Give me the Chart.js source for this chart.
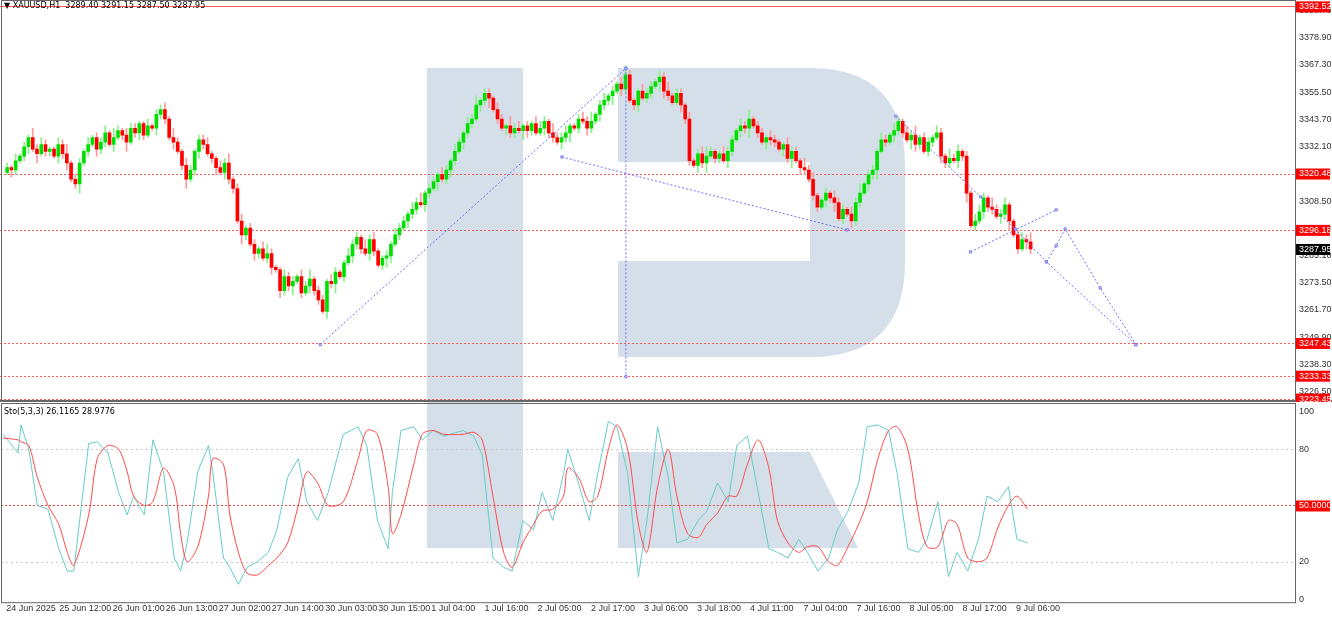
<!DOCTYPE html>
<html><head><meta charset="utf-8">
<script src="https://cdn.jsdelivr.net/npm/chart.js@4/dist/chart.umd.min.js"></script>
<style>
html,body{margin:0;padding:0;background:#fff;}
#wrap{position:relative;width:1332px;height:618px;overflow:hidden;}
#bg{position:absolute;left:0;top:0;}
</style></head><body>
<div id="wrap">
<canvas id="bg" width="1332" height="618"></canvas>
<div style="position:absolute;left:0;top:0;width:1332px;height:402px"><canvas id="c1"></canvas></div>
<div style="position:absolute;left:0;top:402px;width:1332px;height:216px"><canvas id="c2"></canvas></div>
</div>
<script>
// ---------- DATA ----------
const closes = [
3323,3322,3326,3328,3332,3336,3331,3329,3333,3330,
3331,3328,3333,3329,3325,3318,3316,3325,3330,3333,
3336,3331,3334,3338,3333,3336,3339,3337,3334,3340,
3338,3342,3337,3341,3340,3346,3348,3344,3336,3334,
3330,3324,3318,3322,3330,3335,3333,3329,3327,3323,
3321,3325,3318,3314,3300,3294,3297,3290,3286,3288,
3284,3286,3280,3279,3270,3276,3272,3274,3276,3269,
3272,3275,3270,3266,3261,3274,3273,3278,3276,3282,
3285,3290,3293,3288,3286,3292,3287,3281,3284,3285,
3290,3294,3297,3300,3303,3305,3308,3307,3312,3314,
3317,3320,3318,3322,3326,3330,3334,3338,3342,3344,
3350,3352,3355,3353,3348,3344,3340,3341,3338,3340,
3339,3341,3339,3342,3338,3340,3343,3338,3336,3334,
3336,3338,3341,3340,3344,3343,3340,3343,3346,3350,
3352,3354,3356,3359,3357,3363,3352,3350,3356,3353,
3355,3358,3360,3362,3356,3354,3351,3355,3350,3344,
3326,3324,3329,3325,3328,3330,3327,3329,3326,3330,
3335,3339,3341,3340,3344,3341,3338,3334,3336,3335,
3334,3331,3333,3327,3330,3326,3323,3322,3318,3311,
3306,3309,3312,3310,3308,3301,3305,3303,3300,3308,
3312,3316,3320,3322,3330,3335,3334,3337,3339,3343,
3338,3335,3337,3333,3336,3330,3334,3336,3338,3328,
3325,3327,3326,3330,3328,3312,3298,3300,3304,3310,
3306,3305,3302,3303,3307,3300,3294,3288,3292,3291,
3288];
const firstOpen = 3321;
const wickUp = "2131214232113241221312231421322113122314213212231132412312213421132213241221321132214231121322132412213213213241221321423121332142231123241231213421132213241221312342113221324122132113221423112132213241221321321324122132142312133214223112324123121342113221324122";
const wickDn = "1321231412213231241213221312412321132213124123212313221421321231322412132213241213221321243121322132141232132213241213221432113221324121321322413212312214321132213241221321324121322132413212213241213221324121322143212213221324121322132412132213241213221324121";
const tickPos = [0.7,13.1,25.6,38.0,50.4,62.8,75.3,87.7,100.1,112.5,124.9,137.4,149.8,162.2,174.6,187.1,199.5,211.9,224.3,236.8];
const tickLabels = ["24 Jun 2025","25 Jun 12:00","26 Jun 01:00","26 Jun 13:00","27 Jun 02:00","27 Jun 14:00","30 Jun 03:00","30 Jun 15:00","1 Jul 04:00","1 Jul 16:00","2 Jul 05:00","2 Jul 17:00","3 Jul 06:00","3 Jul 18:00","4 Jul 11:00","7 Jul 04:00","7 Jul 16:00","8 Jul 05:00","8 Jul 17:00","9 Jul 06:00"];
const priceTicks = [3390.70,3378.90,3367.30,3355.50,3343.70,3332.10,3320.48,3308.50,3296.18,3285.10,3273.50,3261.70,3249.90,3238.30,3226.50];
const levelLines = [3320.48,3296.18,3247.43,3233.33,3223.45];
const topLevel = 3392.52;
const lastPrice = 3287.95;
const stochHours = [0,3.5,4.2,6,8,10.5,13,15,16.5,20,22,24.5,27,29,30.5,33,35,37.5,40,41.5,43,45.5,48,49,51.5,53,55,57,59.5,62,64,66.5,69,71,73.5,76,79.5,83,85,87.5,90,91,93,96,98,100.5,103,107.5,110,112,114.5,117,119,121.5,124,126,128.5,131,132,134.5,137,139,141.5,143.5,146,148.5,150.5,153,155.5,157.5,160,162.5,164.5,167,169.5,171.5,174,176.5,179,181,183.5,186,188,190.5,193,195,197.5,200,202,204.5,207,209,211.5,214,216,218.5,221,223,225.5,228,230,232.5,235,237,239.5];
const stochK = [88,78,93,80,50,48,27,15,15,83,84,78,57,45,55,45,85,68,22,15,30,68,82,68,22,17,8,17,20,25,37,65,75,52,42,57,88,92,82,42,27,57,90,92,85,90,87,90,87,77,22,17,15,42,37,57,42,67,80,62,42,67,95,92,67,12,42,92,65,30,32,42,47,62,52,82,87,57,27,25,22,32,25,15,22,37,47,62,92,93,90,67,27,25,32,52,12,25,15,32,55,52,60,32,30];
const stochD = [86,85,84,82,65,50,40,25,18,45,75,82,80,68,55,50,52,70,60,35,20,28,55,75,72,45,25,14,13,18,22,30,50,68,62,50,52,75,90,88,60,35,45,72,88,90,88,88,89,85,55,25,17,30,40,47,48,55,70,65,52,55,80,93,80,40,25,60,80,55,35,33,40,46,55,55,72,85,70,42,30,25,28,28,20,18,28,40,52,75,90,92,80,45,28,28,42,40,22,20,22,38,50,55,48];
const line1 = [[73.4,3246.7],[145.1,3365.8]];
const line2 = [[145.1,3365.8],[145.1,3232.9]];
const line3 = [[130.1,3327.6],[197.0,3296.2]];
const line4 = [[208.4,3345.2],[228.3,3310.4],[236.4,3296.6],[243.7,3282.4],[264.7,3246.7]];
const line5 = [[225.9,3286.7],[246.0,3304.8]];
const line6 = [[243.7,3282.4],[246.0,3289.3],[248.1,3296.6],[256.3,3271.2],[264.7,3246.7]];
const header1 = "XAUUSD,H1  3289.40 3291.15 3287.50 3287.95";
const header2 = "Sto(5,3,3) 26.1165 28.9776";

// ---------- BACKGROUND LOGO ----------
(function(){
  const g=document.getElementById('bg').getContext('2d');
  g.fillStyle='#d5dfea';
  g.fillRect(427,68,96,480);
  g.beginPath();
  g.moveTo(618,68);g.lineTo(810,68);
  g.quadraticCurveTo(905,68,905,165);
  g.lineTo(905,262);
  g.quadraticCurveTo(905,357,810,357);
  g.lineTo(618,357);g.lineTo(618,261);g.lineTo(810,261);g.lineTo(810,162);g.lineTo(618,162);
  g.closePath();g.fill();
  g.beginPath();g.moveTo(618,452);g.lineTo(810,452);g.lineTo(858,548);g.lineTo(618,548);g.closePath();g.fill();
})();

// ---------- BUILD CANDLES ----------
const bodies=[],wicks=[],bodyCol=[],wickCol=[];
closes.forEach((c,i)=>{
  const o = i===0?firstOpen:closes[i-1];
  const up = c>=o;
  const hi = Math.max(o,c)+Number(wickUp.charAt(i)||1);
  const lo = Math.min(o,c)-Number(wickDn.charAt(i)||1);
  bodies.push({x:i,y:o===c?[o-0.3,c+0.3]:[o,c]});
  wicks.push({x:i,y:[lo,hi]});
  bodyCol.push(up?'#00e000':'#ff0000');
  wickCol.push(up?'#8af08a':'#ff9a9a');
});
const toPts = a=>a.map(p=>({x:p[0],y:p[1]}));
const FONT='"Liberation Sans", sans-serif';
Chart.defaults.font.family=FONT;
Chart.defaults.font.size=9;
Chart.defaults.color='#333';

const dashLine=(d)=>({type:'line',data:toPts(d),borderColor:'#6f6ff5',borderWidth:1,borderDash:[2,2],pointRadius:1.5,pointStyle:'rect',pointBorderColor:'#6f6ff5',pointBackgroundColor:'#fff',fill:false,tension:0,order:0,clip:false});

function box(ctx,text,xLeft,y,bg,fg){
  ctx.font='9px '+FONT;
  ctx.fillStyle=bg;ctx.fillRect(xLeft,y-5,34,11);
  ctx.fillStyle=fg;ctx.textBaseline='middle';ctx.textAlign='left';ctx.fillText(text,xLeft+3,y+0.5);
}
const fitY=s=>{s.width=37;};
const noGrid={display:false,drawTicks:false,tickLength:0};

const mainPlugin={id:'mainp',
 beforeDatasetsDraw(ch){
  const {ctx,chartArea:a,scales:{y}}=ch;
  ctx.save();
  ctx.strokeStyle='#ff5a5a';ctx.lineWidth=1;ctx.setLineDash([2,2]);
  levelLines.forEach(v=>{const py=Math.round(y.getPixelForValue(v))+0.5;ctx.beginPath();ctx.moveTo(0,py);ctx.lineTo(a.right,py);ctx.stroke();});
  ctx.setLineDash([]);
  const ty=Math.round(y.getPixelForValue(topLevel))+0.5;
  ctx.beginPath();ctx.moveTo(0,ty);ctx.lineTo(a.right,ty);ctx.stroke();
  ctx.restore();
 },
 afterDraw(ch){
  const {ctx,chartArea:a,scales:{y}}=ch;
  ctx.save();
  ctx.strokeStyle='#666';ctx.lineWidth=1;
  ctx.strokeRect(1.5,0.5,a.right-1,ch.height-1.5);
  ctx.fillStyle='#666';ctx.fillRect(0,ch.height-2,ch.width,2);
  levelLines.concat([topLevel]).forEach(v=>box(ctx,v.toFixed(2),a.right+1,y.getPixelForValue(v),'#ff0000','#fff'));
  box(ctx,lastPrice.toFixed(2),a.right+1,y.getPixelForValue(lastPrice),'#000','#fff');
  ctx.fillStyle='#000';ctx.font='8px "DejaVu Sans"';ctx.textBaseline='middle';ctx.textAlign='left';
  ctx.fillText('\u25BC '+header1,4,6);
  ctx.restore();
 }};

new Chart(document.getElementById('c1'),{
 data:{datasets:[
  dashLine(line1),dashLine(line2),dashLine(line3),dashLine(line4),dashLine(line5),dashLine(line6),
  {type:'bar',data:wicks,backgroundColor:wickCol,barThickness:1,grouped:false,order:2},
  {type:'bar',data:bodies,backgroundColor:bodyCol,barThickness:3,grouped:false,order:1}
 ]},
 options:{responsive:true,maintainAspectRatio:false,animation:false,
  layout:{padding:{left:1,top:0,bottom:0,right:0}},
  plugins:{legend:{display:false},tooltip:{enabled:false}},
  scales:{
   x:{type:'linear',display:false,offset:false,min:-0.5,max:302},
   y:{position:'right',min:3226.03,max:3391.23,grid:noGrid,border:{display:false},
      afterBuildTicks:s=>{s.ticks=priceTicks.map(v=>({value:v}));},
      afterFit:fitY,
      ticks:{padding:4,color:'#333',callback:v=>v.toFixed(2)}}
  }},
 plugins:[mainPlugin]});

const stochPlugin={id:'stp',
 beforeDatasetsDraw(ch){
  const {ctx,chartArea:a,scales:{y}}=ch;
  ctx.save();ctx.lineWidth=1;
  ctx.setLineDash([2,3]);ctx.strokeStyle='#c8c8c8';
  [80,20].forEach(v=>{const py=Math.round(y.getPixelForValue(v))+0.5;ctx.beginPath();ctx.moveTo(a.left,py);ctx.lineTo(a.right,py);ctx.stroke();});
  ctx.setLineDash([2,2]);ctx.strokeStyle='#ff4040';
  const py=Math.round(y.getPixelForValue(50))+0.5;ctx.beginPath();ctx.moveTo(a.left,py);ctx.lineTo(a.right,py);ctx.stroke();
  ctx.restore();
 },
 afterDraw(ch){
  const {ctx,chartArea:a,scales:{y}}=ch;
  ctx.save();ctx.strokeStyle='#666';ctx.lineWidth=1;
  ctx.strokeRect(1.5,1.5,a.right-1,a.bottom+2);
  box(ctx,'50.0000',a.right+1,y.getPixelForValue(50),'#ff0000','#fff');
  ctx.fillStyle='#000';ctx.font='8px "DejaVu Sans"';ctx.textBaseline='middle';ctx.textAlign='left';
  ctx.fillText(header2,4,10);
  ctx.restore();
 }};

new Chart(document.getElementById('c2'),{
 data:{datasets:[
  {type:'line',data:stochHours.map((h,i)=>({x:h,y:stochD[i]})),borderColor:'#ff4a4a',borderWidth:1,pointRadius:0,tension:0.3},
  {type:'line',data:stochHours.map((h,i)=>({x:h,y:stochK[i]})),borderColor:'#66cdc6',borderWidth:1,pointRadius:0,tension:0}
 ]},
 options:{responsive:true,maintainAspectRatio:false,animation:false,
  layout:{padding:{left:1,top:-4,bottom:0,right:0}},
  plugins:{legend:{display:false},tooltip:{enabled:false}},
  scales:{
   x:{type:'linear',offset:false,min:-0.5,max:302,grid:{display:false,drawTicks:false,tickLength:0},border:{display:false},
      afterBuildTicks:s=>{s.ticks=tickPos.map(v=>({value:v}));},
      ticks:{autoSkip:false,maxRotation:0,padding:4,align:'start',color:'#333',callback:(v,i)=>tickLabels[i]}},
   y:{position:'right',min:0,max:100.2,grid:noGrid,border:{display:false},
      afterBuildTicks:s=>{s.ticks=[100,80,20,0].map(v=>({value:v}));},
      afterFit:fitY,
      ticks:{padding:4,color:'#333'}}
  }},
 plugins:[stochPlugin]});
</script>
</body></html>
